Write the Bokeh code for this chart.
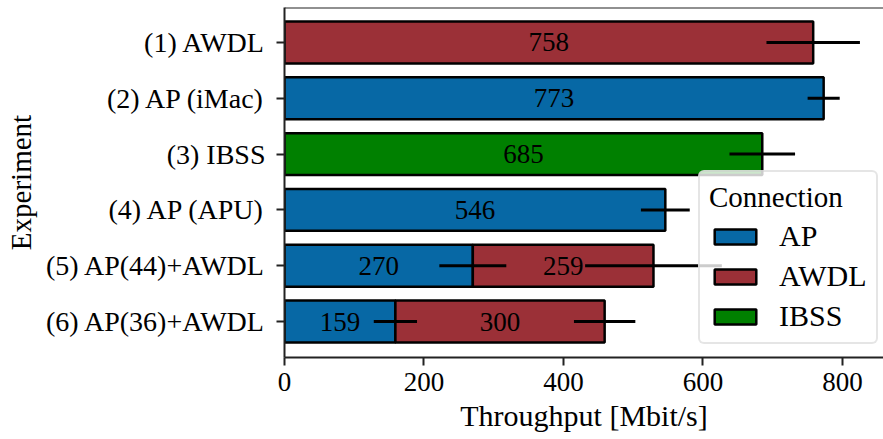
from bokeh.plotting import figure
from bokeh.models import Range1d, FixedTicker, Span, Legend, LegendItem, ColumnDataSource
from bokeh.core.properties import value
from bokeh.embed import file_html
from bokeh.resources import INLINE

experiments = ["(1) AWDL", "(2) AP (iMac)", "(3) IBSS", "(4) AP (APU)",
               "(5) AP(44)+AWDL", "(6) AP(36)+AWDL"]
ap = [0, 773, 0, 546, 270, 159]
awdl = [758, 0, 0, 0, 259, 300]
ibss = [0, 0, 685, 0, 0, 0]
ap_err = [0, 23, 0, 35, 48, 31]
awdl_err = [67, 0, 0, 0, 98, 44]
ibss_err = [0, 0, 47, 0, 0, 0]
x_ticks = [0, 200, 400, 600, 800]
series_names = ["AP", "AWDL", "IBSS"]
colors = ["#0768a5", "#9b3037", "#008000"]

FONT = "Liberation Serif"

p = figure(width=883, height=439, output_backend="svg", toolbar_location=None,
           x_range=Range1d(0, 858.8), y_range=Range1d(5.645, -0.627),
           min_border_left=284, min_border_right=0, min_border_top=7,
           min_border_bottom=82)
p.outline_line_color = None
p.xgrid.visible = False
p.ygrid.visible = False
p.background_fill_color = "white"
p.border_fill_color = "white"

series = [ap, awdl, ibss]
errs = [ap_err, awdl_err, ibss_err]
left_acc = [0] * len(experiments)
renderers = []
for name, vals, err, col in zip(series_names, series, errs, colors):
    ys, lefts, rights, mids, labels, e0, e1 = [], [], [], [], [], [], []
    for i, v in enumerate(vals):
        if v > 0:
            l = left_acc[i]
            r = l + v
            ys.append(i)
            lefts.append(l)
            rights.append(r)
            mids.append((l + r) / 2)
            labels.append(str(v))
            e0.append(r - err[i])
            e1.append(r + err[i])
            left_acc[i] = r
    src = ColumnDataSource(dict(y=ys, left=lefts, right=rights, mid=mids,
                                label=labels, e0=e0, e1=e1))
    rb = p.hbar(y="y", left="left", right="right", height=0.75, source=src,
                fill_color=col, line_color="black", line_width=2.5)
    renderers.append((name, rb, src))

for name, rb, src in renderers:
    p.text(x="mid", y="y", text="label", source=src, text_align="center",
           text_baseline="middle", text_font=value(FONT), text_font_size="27px",
           text_color="black")
for name, rb, src in renderers:
    p.segment(x0="e0", x1="e1", y0="y", y1="y", source=src,
              line_color="black", line_width=3)

top = Span(location=-0.627, dimension="width", line_color="#222222", line_width=2)
p.add_layout(top)

p.xaxis.ticker = FixedTicker(ticks=x_ticks)
p.yaxis.ticker = FixedTicker(ticks=list(range(len(experiments))))
p.yaxis.major_label_overrides = {i: e for i, e in enumerate(experiments)}
for ax in (p.xaxis, p.yaxis):
    ax.minor_tick_line_color = None
    ax.major_tick_out = 8
    ax.major_tick_in = 0
    ax.major_tick_line_width = 2
    ax.axis_line_width = 2
    ax.axis_line_color = "#222222"
    ax.major_tick_line_color = "#222222"
    ax.major_label_text_font = FONT
    ax.major_label_text_color = "black"
    ax.axis_label_text_font = FONT
    ax.axis_label_text_font_style = "normal"
    ax.axis_label_text_color = "black"
p.xaxis.major_label_text_font_size = "27px"
p.yaxis.major_label_text_font_size = "28px"
p.xaxis.axis_label_text_font_size = "30px"
p.yaxis.axis_label_text_font_size = "29px"
p.xaxis.axis_label = "Throughput [Mbit/s]"
p.yaxis.axis_label = "Experiment"
p.xaxis.major_label_standoff = 7
p.xaxis.axis_label_standoff = 5
p.yaxis.major_label_standoff = 11
p.yaxis.axis_label_standoff = 6

legend = Legend(items=[LegendItem(label=n, renderers=[rb]) for n, rb, s in renderers],
                title="Connection", location=(414, 13))
legend.title_text_font = FONT
legend.title_text_font_size = "29px"
legend.title_text_font_style = "normal"
legend.title_text_color = "black"
legend.title_standoff = 5
legend.label_text_font = FONT
legend.label_text_font_size = "30px"
legend.label_text_color = "black"
legend.glyph_width = 52
legend.glyph_height = 19
legend.label_standoff = 18
legend.spacing = 6
legend.padding = 9
legend.margin = 0
legend.border_line_color = "#cccccc"
legend.border_line_width = 2
legend.background_fill_alpha = 0.8
legend.border_radius = 6
p.add_layout(legend, "center")

open("out.html", "w").write(file_html(p, INLINE))
